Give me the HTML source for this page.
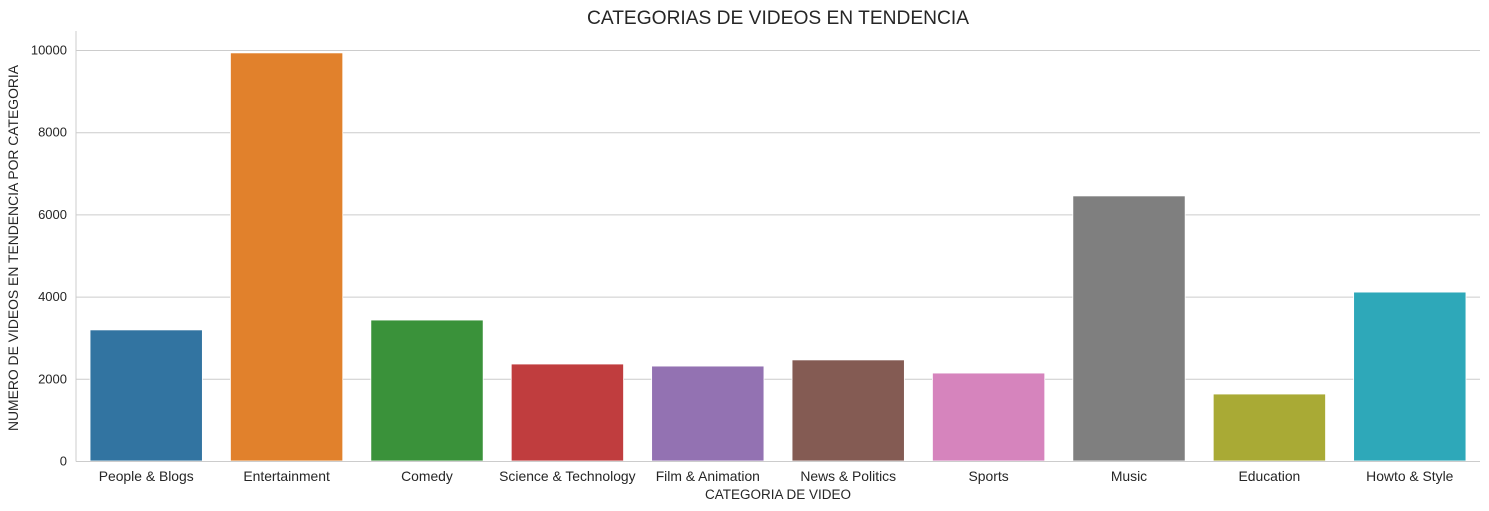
<!DOCTYPE html>
<html><head><meta charset="utf-8"><style>
body{margin:0;background:#fff;}
svg{display:block;font-family:"Liberation Sans",Arial,sans-serif;}
</style></head><body>
<svg id="chart" width="1489" height="511">
<text x="778" y="24" text-anchor="middle" font-size="19.2" fill="#262626">CATEGORIAS DE VIDEOS EN TENDENCIA</text>
<text x="778" y="499" text-anchor="middle" font-size="13.5" fill="#262626">CATEGORIA DE VIDEO</text>
<text transform="translate(18,248) rotate(-90)" text-anchor="middle" font-size="13.9" fill="#262626">NUMERO DE VIDEOS EN TENDENCIA POR CATEGORIA</text>
<g id="grid"></g><g id="bars"></g><g id="xt"></g>
<line x1="76" y1="31" x2="76" y2="461.5" stroke="#ccc"/>
<line x1="76" y1="461.5" x2="1480" y2="461.5" stroke="#ccc"/>
</svg>
<script>
const categories=["People & Blogs","Entertainment","Comedy","Science & Technology","Film & Animation","News & Politics","Sports","Music","Education","Howto & Style"];
const values=[3190,9930,3430,2360,2310,2460,2140,6450,1630,4110];
const colors=["#3274a1","#e1812c","#3a923a","#c03d3e","#9372b2","#845b53","#d684bd","#7f7f7f","#a9aa35","#2ea8b9"];
const yTicks=[0,2000,4000,6000,8000,10000];
const NS="http://www.w3.org/2000/svg";
const x0=76,x1=1480,yBase=461,yScale=411/10000;
const y=v=>yBase-v*yScale;
const band=(x1-x0)/categories.length;
function mk(t,a,p){const e=document.createElementNS(NS,t);for(const k in a)e.setAttribute(k,a[k]);p.appendChild(e);return e;}
const g=document.getElementById('grid');
yTicks.forEach(t=>{
 if(t>0){const l=mk('line',{x1:x0,x2:x1,y1:y(t)+.5,y2:y(t)+.5,stroke:'#ccc'},g);
 
 }
 const tx=mk('text',{x:67,y:y(t)+4.5,'text-anchor':'end','font-size':13,fill:'#262626'},g);
 tx.textContent=t;
 
 
});
const b=document.getElementById('bars'),xt=document.getElementById('xt');
categories.forEach((c,i)=>{
 const cx=x0+band*(i+.5),w=band*0.8;
 const r=mk('rect',{x:cx-w/2,y:y(values[i]),width:w,height:values[i]*yScale,fill:colors[i],stroke:'#fff','stroke-width':0.8},b);
 
 
 const t=mk('text',{x:cx,y:481,'text-anchor':'middle','font-size':13.9,fill:'#262626'},xt);
 t.textContent=c;
 
 
});
</script>
</body></html>
